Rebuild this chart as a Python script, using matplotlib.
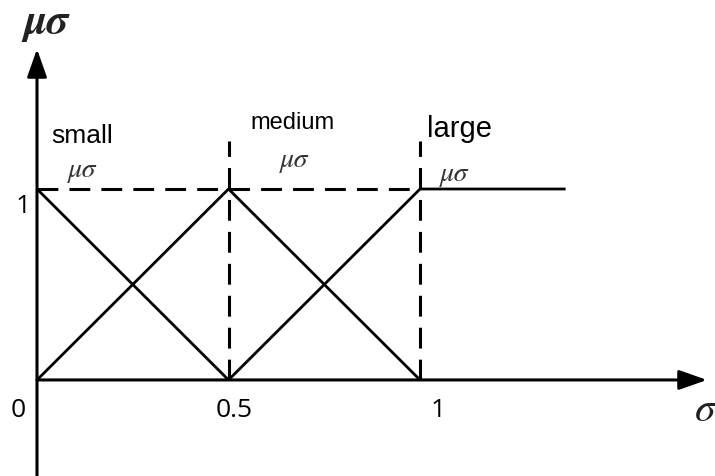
import matplotlib
matplotlib.use("Agg")
import matplotlib.pyplot as plt

# membership functions of sigma: small / medium / large
small_x = [0, 0.5]
small_mu = [1, 0]
medium_x = [0, 0.5, 1]
medium_mu = [0, 1, 0]
large_x = [0.5, 1, 1.38]
large_mu = [0, 1, 1]

x_ticks = [0, 0.5, 1]
x_tick_labels = ["0", "0.5", "1"]
y_ticks = [1]
y_tick_labels = ["1"]

set_names = ["small", "medium", "large"]

plt.rcParams["lines.scale_dashes"] = False

fig = plt.figure(figsize=(7.15, 4.77), dpi=100)
ax = fig.add_axes([0, 0, 1, 1])
ax.set_xlim(-0.0966, 1.770)
ax.set_ylim(-0.503, 1.995)
ax.axis("off")

ink = "black"
lw = 2.0

# axes with arrow heads
arrow = dict(arrowstyle="-|>,head_length=1.7,head_width=0.6", color=ink,
             lw=2.2, shrinkA=0, shrinkB=0, mutation_scale=10)
ax.annotate("", xy=(1.749, 0), xytext=(0, 0), arrowprops=arrow)
ax.annotate("", xy=(0, 1.733), xytext=(0, -0.503), arrowprops=arrow)

# membership triangles
ax.plot(small_x, small_mu, color=ink, lw=lw, solid_capstyle="butt")
ax.plot(medium_x, medium_mu, color=ink, lw=lw, solid_capstyle="butt")
ax.plot(large_x, large_mu, color=ink, lw=lw, solid_capstyle="butt")

# dashed guides
dash = (0, (15, 8))
ax.plot([0, 1], [1, 1], color=ink, lw=2.2, linestyle=dash)
for xc in [0.5, 1.0]:
    ax.plot([xc, xc], [0, 1.25], color=ink, lw=2.2, linestyle=dash)

# tick labels
for xv, lab, dx in zip(x_ticks, x_tick_labels, [-0.048, 0.014, 0.048]):
    ax.text(xv + dx, -0.188, lab, fontsize=19, family="Open Sans",
            ha="center", va="baseline", color=ink)
for yv, lab in zip(y_ticks, y_tick_labels):
    ax.text(-0.037, yv - 0.12, lab, fontsize=19, family="Open Sans",
            ha="center", va="baseline", color=ink)

# set names with their membership symbols
name_pos = [(0.1175, 1.246, 19), (0.666, 1.32, 17), (1.104, 1.277, 21)]
sym_pos = [(0.119, 1.068), (0.671, 1.12), (1.089, 1.047)]
for name, (nx, ny, fs), (sx, sy) in zip(set_names, name_pos, sym_pos):
    ax.text(nx, ny, name, fontsize=fs, family="Liberation Sans",
            ha="center", va="baseline", color=ink)
    ax.text(sx, sy, "μσ", fontsize=20, family="STIXGeneral", style="italic",
            ha="center", va="baseline", color="#333333")

# axis titles
ax.text(0.026, 1.822, "μσ", fontsize=31, family="STIXGeneral", style="italic",
        weight="bold", ha="center", va="baseline", color="#222222")
ax.text(1.745, -0.209, "σ", fontsize=30, family="STIXGeneral", style="italic",
        ha="center", va="baseline", color="#222222")

fig.savefig("out.png", dpi=100)
